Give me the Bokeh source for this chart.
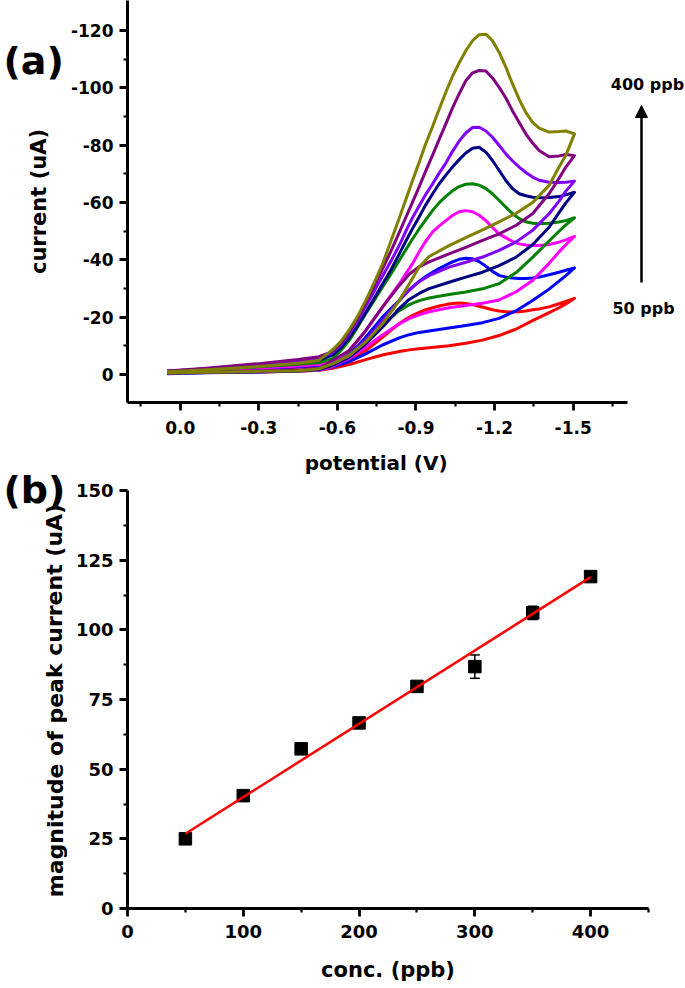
from bokeh.plotting import figure
from bokeh.models import (Range1d, FixedTicker, PrintfTickFormatter, Label, Arrow,
                          NormalHead, Whisker, TeeHead, ColumnDataSource)
from bokeh.layouts import column, row
from bokeh.core.properties import value
from bokeh.embed import file_html
from bokeh.resources import INLINE
import math

# ---------------- panel (a): cyclic voltammograms ----------------
# potential grid of the return (peak) branch, from -1.5 V back to 0
V_UP = [-1.505, -1.472, -1.446, -1.408, -1.37, -1.345, -1.319, -1.294, -1.268, -1.243,
        -1.217, -1.192, -1.167, -1.141, -1.116, -1.09, -1.065, -1.039, -1.014, -0.988,
        -0.963, -0.937, -0.912, -0.886, -0.861, -0.836, -0.804, -0.772, -0.74, -0.708,
        -0.677, -0.645, -0.613, -0.581, -0.53, -0.45, -0.3, -0.1, 0.05]
# potential grid of the lower branch, from 0 to -1.5 V
V_LOW = [0.05, -0.1, -0.3, -0.45, -0.53, -0.581, -0.645, -0.708, -0.772, -0.836, -0.874,
         -0.912, -0.95, -1.026, -1.09, -1.154, -1.217, -1.281, -1.345, -1.408, -1.446,
         -1.472, -1.505]

ppb50_low = [-0.5, -0.7, -0.9, -1.1, -1.5, -2.2, -3.5, -5.2, -6.8, -8.0, -8.6, -9.0, -9.3,
             -10.0, -10.9, -12.0, -13.6, -15.8, -18.8, -21.6, -23.3, -24.6, -26.6]
ppb50_up = [-26.6, -25.5, -24.7, -23.6, -22.9, -22.6, -22.2, -21.9, -21.8, -21.9, -22.2,
            -22.6, -23.2, -23.8, -24.4, -24.8, -25.0, -24.8, -24.4, -23.9, -23.3, -22.6,
            -21.7, -20.6, -19.3, -17.7, -15.4, -13.0, -10.6, -8.4, -6.8, -5.5, -4.5, -3.7,
            -3.0, -2.5, -1.9, -1.3, -0.9]

ppb100_low = [-0.3, -0.6, -0.9, -1.2, -1.6, -2.6, -4.5, -7.2, -10.3, -12.8, -13.9, -14.7,
              -15.2, -16.2, -17.1, -18.1, -19.6, -22.2, -25.8, -29.8, -32.6, -34.5, -37.2]
ppb100_up = [-37.2, -36.4, -35.7, -34.8, -34.0, -33.7, -33.5, -33.5, -33.7, -34.0, -34.6,
             -36.0, -37.8, -39.4, -40.4, -40.6, -40.2, -39.3, -38.2, -37.0, -35.7, -34.2,
             -32.5, -30.5, -28.3, -25.8, -23.0, -20.0, -16.5, -13.0, -9.9, -7.2, -5.2, -3.8,
             -3.1, -2.7, -2.1, -1.4, -0.8]

ppb150_low = [-0.5, -0.7, -1.0, -1.2, -1.6, -2.8, -5.6, -9.5, -13.8, -17.7, -19.5, -20.8,
              -21.9, -23.3, -24.1, -24.9, -26.0, -28.8, -32.8, -38.8, -42.8, -45.3, -48.2]
ppb150_up = [-48.2, -47.0, -46.2, -45.4, -45.0, -45.0, -45.2, -45.6, -46.5, -47.7, -49.1,
             -51.3, -53.7, -55.6, -56.8, -57.2, -56.8, -55.5, -53.7, -51.8, -49.7, -46.5,
             -42.8, -38.6, -35.1, -31.6, -27.6, -23.5, -19.4, -15.3, -11.7, -8.4, -6.0, -4.3,
             -3.5, -3.0, -2.3, -1.5, -1.0]

ppb200_low = [-0.5, -0.7, -1.0, -1.2, -1.7, -3.2, -7.0, -11.9, -17.3, -22.3, -24.4, -25.8,
              -26.7, -27.9, -28.8, -29.9, -31.7, -35.5, -40.9, -46.6, -50.0, -52.2, -54.7]
ppb200_up = [-54.7, -53.7, -53.2, -52.8, -52.6, -52.8, -53.3, -54.4, -56.2, -58.4, -60.8,
             -63.1, -64.9, -66.1, -66.6, -66.4, -65.6, -64.1, -62.2, -59.9, -57.2, -54.0,
             -50.8, -47.2, -43.5, -39.8, -35.0, -30.5, -25.8, -21.2, -16.5, -11.9, -8.3, -5.5,
             -4.2, -3.6, -2.7, -1.7, -1.0]

ppb250_low = [-0.5, -0.7, -1.0, -1.3, -1.8, -3.2, -6.0, -10.7, -16.5, -23.0, -26.2, -28.3,
              -30.0, -32.2, -34.0, -35.7, -38.0, -40.9, -45.3, -51.4, -56.5, -59.9, -63.6]
ppb250_up = [-63.6, -62.7, -62.1, -61.8, -61.7, -61.9, -62.4, -63.1, -64.9, -67.7, -71.3,
             -74.7, -77.6, -79.3, -79.0, -77.3, -75.0, -72.4, -69.6, -66.5, -63.0, -59.2,
             -55.0, -50.8, -46.5, -42.0, -36.5, -31.5, -26.5, -21.6, -17.0, -12.8, -9.2, -6.8,
             -5.0, -4.2, -3.1, -1.9, -1.1]

ppb300_low = [-0.5, -0.8, -1.1, -1.4, -2.0, -3.7, -6.6, -11.9, -18.8, -25.8, -29.5, -32.4,
              -34.5, -37.5, -39.2, -41.0, -43.3, -46.2, -50.3, -56.1, -60.5, -64.0, -67.5]
ppb300_up = [-67.5, -67.1, -67.0, -67.1, -67.8, -68.9, -70.5, -72.4, -74.6, -77.0, -80.0,
             -82.8, -85.0, -86.3, -86.2, -84.3, -81.5, -77.8, -73.8, -70.2, -66.5, -62.8,
             -58.8, -54.6, -50.0, -45.0, -39.5, -34.3, -29.0, -23.8, -18.8, -14.2, -10.3, -7.6,
             -5.8, -4.7, -3.4, -2.0, -1.1]

ppb350_low = [-0.6, -0.9, -1.2, -1.5, -2.2, -4.9, -8.4, -15.3, -23.5, -31.0, -35.0, -37.6,
              -39.3, -42.1, -44.4, -46.8, -49.1, -52.0, -56.1, -63.1, -68.5, -72.4, -76.4]
ppb350_up = [-76.4, -76.8, -76.3, -76.0, -78.2, -80.8, -84.0, -88.0, -92.1, -96.5, -100.3,
             -103.5, -105.9, -106.1, -105.3, -102.5, -98.0, -93.0, -87.5, -82.0, -76.5, -71.0,
             -65.5, -60.0, -54.8, -49.5, -43.0, -36.8, -30.8, -25.0, -19.5, -14.8, -10.8, -8.0,
             -6.2, -5.2, -3.8, -2.2, -1.2]

ppb400_low = [-0.5, -0.8, -1.1, -1.3, -2.0, -3.7, -6.6, -11.3, -17.7, -25.8, -31.6, -37.5,
              -41.2, -45.0, -47.8, -50.5, -53.3, -56.2, -60.0, -66.0, -72.4, -76.5, -84.0]
ppb400_up = [-84.0, -85.0, -84.8, -84.6, -86.0, -88.0, -91.5, -96.0, -101.5, -107.3, -112.5,
             -116.5, -118.8, -118.6, -116.5, -113.0, -108.8, -104.0, -98.5, -92.5, -86.5,
             -80.5, -74.0, -67.5, -61.0, -54.5, -46.5, -38.5, -32.0, -25.8, -20.3, -15.6,
             -11.5, -8.6, -5.0, -3.9, -2.8, -1.7, -1.0]

CURVES = [
    (ppb50_low, ppb50_up, "#FF0000"),
    (ppb100_low, ppb100_up, "#0000FF"),
    (ppb150_low, ppb150_up, "#FF00FF"),
    (ppb200_low, ppb200_up, "#008000"),
    (ppb250_low, ppb250_up, "#000080"),
    (ppb300_low, ppb300_up, "#8000FF"),
    (ppb350_low, ppb350_up, "#800080"),
    (ppb400_low, ppb400_up, "#808000"),
]

A_XTICKS = [0.0, -0.3, -0.6, -0.9, -1.2, -1.5]
A_XMINOR = [0.15, -0.15, -0.45, -0.75, -1.05, -1.35, -1.65]
A_YTICKS = [0, -20, -40, -60, -80, -100, -120]
A_YMINOR = [-10, -30, -50, -70, -90, -110]
A_XAXIS_END = -1.7073

# ---------------- panel (b): calibration ----------------
conc = [50, 100, 150, 200, 250, 300, 350, 400]
peak = [25.0, 40.5, 57.3, 66.6, 79.7, 86.8, 106.1, 119.1]
err = [1.0, 0.8, 1.5, 0.8, 0.9, 4.2, 2.4, 1.0]
fit_conc = [50, 400]
fit_peak = [26.8, 118.9]

B_XTICKS = [0, 100, 200, 300, 400]
B_XMINOR = [50, 150, 250, 350, 450]
B_YTICKS = [0, 25, 50, 75, 100, 125, 150]
B_YMINOR = [12.5, 37.5, 62.5, 87.5, 112.5, 137.5]

FONT = "DejaVu Sans"
NBSP = "\u00a0"


def style_axis(ax, tick_size, label_size, label_standoff, major_label_standoff):
    ax.axis_line_width = 3
    ax.axis_line_color = "black"
    ax.major_tick_line_width = 2.8
    ax.minor_tick_line_width = 2.2
    ax.major_tick_line_color = "black"
    ax.minor_tick_line_color = "black"
    ax.major_tick_out = 8
    ax.major_tick_in = 0
    ax.minor_tick_out = 4
    ax.minor_tick_in = 0
    ax.major_label_text_font = FONT
    ax.major_label_text_font_style = "bold"
    ax.major_label_text_font_size = tick_size
    ax.major_label_text_color = "black"
    ax.axis_label_text_font = FONT
    ax.axis_label_text_font_style = "bold"
    ax.axis_label_text_font_size = label_size
    ax.axis_label_text_color = "black"
    ax.axis_label_standoff = label_standoff
    ax.major_label_standoff = major_label_standoff


def clean(p):
    p.grid.visible = False
    p.outline_line_color = None
    p.background_fill_color = "white"
    p.border_fill_color = "white"


# ---- strip on the left: panel letters and vertical axis titles ----
side = figure(frame_width=67, frame_height=988, x_range=Range1d(0, 67), y_range=Range1d(988, 0),
              output_backend="svg", toolbar_location=None,
              x_axis_location=None, y_axis_location=None,
              min_border_left=0, min_border_right=0, min_border_top=0, min_border_bottom=0)
clean(side)
side.text(x=[3, 3], y=[60, 489], text=["(a)", "(b)"], text_font=value(FONT),
          text_font_style="bold", text_font_size="38px", text_align="left",
          text_baseline="middle", text_color="black")
side.text(x=[38], y=[201], text=["current (uA)"], angle=[math.pi / 2], text_font=value(FONT),
          text_font_style="bold", text_font_size="21px", text_align="center",
          text_baseline="middle", text_color="black")
side.text(x=[54.5], y=[700], text=["magnitude of peak current (uA)"], angle=[math.pi / 2],
          text_font=value(FONT), text_font_style="bold", text_font_size="22px",
          text_align="center", text_baseline="middle", text_color="black")

# ---- panel (a) ----
# the frame runs on to the right edge so that the concentration arrow fits;
# the axis line itself stops at A_XAXIS_END, and the title is padded to stay centred on it
fa = figure(frame_width=560, frame_height=402,
            x_range=Range1d(0.2011, -1.9363), y_range=Range1d(9.77, -130.54),
            output_backend="svg", toolbar_location=None,
            min_border_left=58, min_border_right=0, min_border_top=0, min_border_bottom=77,
            x_axis_label="potential (V)" + NBSP * 9)
clean(fa)

for low, up, col in CURVES:
    fa.line(V_LOW + V_UP, low + up, line_color=col, line_width=3, line_join="round")

fa.xaxis.ticker = FixedTicker(ticks=A_XTICKS, minor_ticks=A_XMINOR)
fa.xaxis.formatter = PrintfTickFormatter(format="%.1f")
fa.xaxis.bounds = (A_XAXIS_END, 0.2011)
fa.yaxis.ticker = FixedTicker(ticks=A_YTICKS, minor_ticks=A_YMINOR)
fa.yaxis.formatter = PrintfTickFormatter(format="%d")
style_axis(fa.xaxis[0], "17px", "20px", 14, 10)
style_axis(fa.yaxis[0], "17px", "20px", 10, 6)

fa.add_layout(Label(x=-1.7836, y=-101.2, text="400 ppb", text_font=FONT, text_font_style="bold",
                    text_font_size="16px", text_align="center", text_baseline="middle",
                    text_color="black"))
fa.add_layout(Label(x=-1.7683, y=-23.0, text="50 ppb", text_font=FONT, text_font_style="bold",
                    text_font_size="16px", text_align="center", text_baseline="middle",
                    text_color="black"))
fa.add_layout(Arrow(end=NormalHead(size=12, fill_color="black", line_color="black", line_width=1),
                    x_start=-1.7607, y_start=-32.1, x_end=-1.7607, y_end=-93.9,
                    line_width=2.5, line_color="black"))

# ---- panel (b) ----
fb = figure(frame_width=521, frame_height=418,
            x_range=Range1d(0, 450), y_range=Range1d(0, 150),
            output_backend="svg", toolbar_location=None,
            min_border_left=57, min_border_right=40, min_border_top=11, min_border_bottom=80,
            x_axis_label="conc. (ppb)")
clean(fb)

src = ColumnDataSource(dict(conc=conc, peak=peak,
                            upper=[p + e for p, e in zip(peak, err)],
                            lower=[p - e for p, e in zip(peak, err)]))
fb.add_layout(Whisker(base="conc", upper="upper", lower="lower", source=src,
                      line_width=1.5, line_color="black",
                      upper_head=TeeHead(size=10, line_width=1.5, line_color="black"),
                      lower_head=TeeHead(size=10, line_width=1.5, line_color="black")))
fb.scatter("conc", "peak", source=src, marker="square", size=12.5,
           fill_color="black", line_color="black")
fb.line(fit_conc, fit_peak, line_color="#FF0000", line_width=2.5)

fb.xaxis.ticker = FixedTicker(ticks=B_XTICKS, minor_ticks=B_XMINOR)
fb.yaxis.ticker = FixedTicker(ticks=B_YTICKS, minor_ticks=B_YMINOR)
style_axis(fb.xaxis[0], "18px", "21px", 17, 8)
style_axis(fb.yaxis[0], "18px", "21px", 4, 6)

layout = row(side, column(fa, fb, spacing=0), spacing=0)
open("out.html", "w").write(file_html(layout, INLINE))
